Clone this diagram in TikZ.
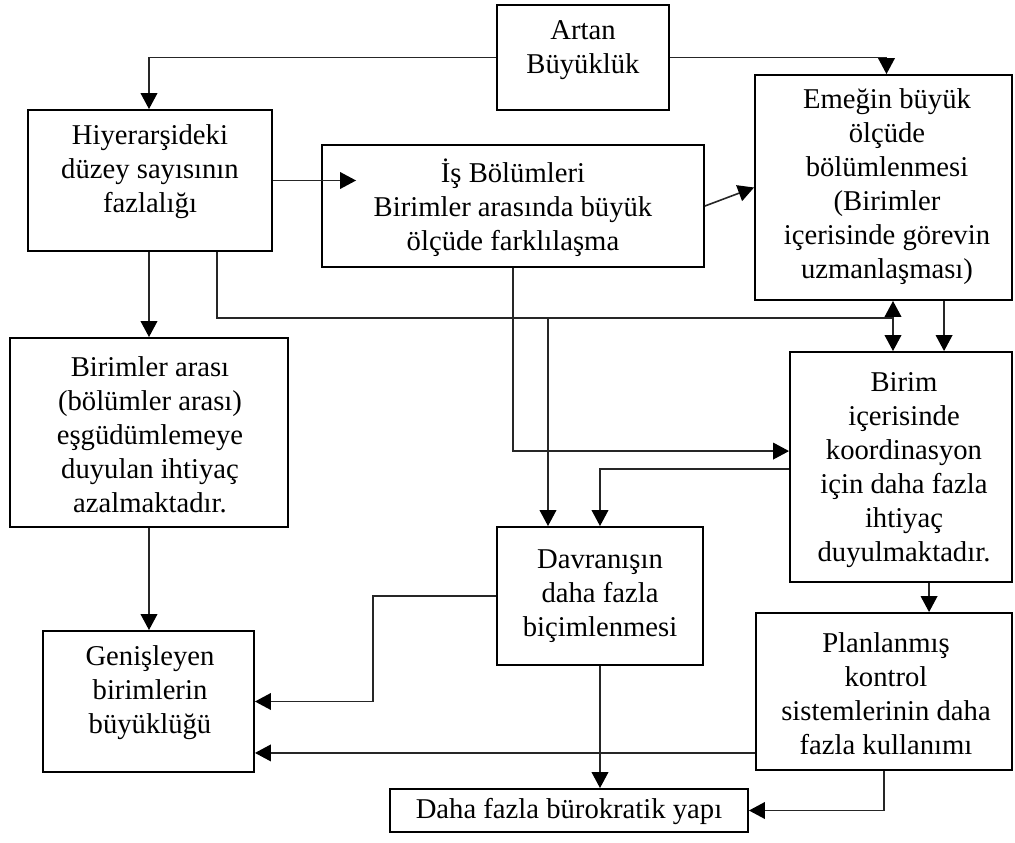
\documentclass[tikz,border=0pt]{standalone}
\usepackage{fontspec}
\setmainfont{Liberation Serif}
\usetikzlibrary{arrows.meta,calc,fit}
\begin{document}
\begin{tikzpicture}[x=0.75pt,y=-0.75pt,
  box/.style={draw, line width=1.4pt, inner sep=0pt},
  txt/.style={align=center, inner sep=0pt, font=\fontsize{21.5}{25.5}\selectfont},
  link/.style={draw=black!85, line width=1.2pt},
  arr/.style={link, -{Triangle[length=12pt,width=12.5pt,color=black]}}]
\useasboundingbox (0,0) rectangle (1015,843);

% boxes
\node[box, fit={(497,5) (669,110)}]    (A) {};
\node[box, fit={(28,110) (272,251)}]   (H) {};
\node[box, fit={(322,145) (704,267)}]  (I) {};
\node[box, fit={(755,75) (1012,300)}]  (E) {};
\node[box, fit={(10,338) (288,527)}]   (B) {};
\node[box, fit={(790,352) (1012,582)}] (C) {};
\node[box, fit={(497,527) (703,665)}]  (D) {};
\node[box, fit={(43,631) (254,772)}]   (G) {};
\node[box, fit={(756,613) (1012,770)}] (P) {};
\node[box, fit={(390,789) (748,832)}]  (F) {};

% texts
\node[txt] (A-t) at (583,50)  {Artan\\Büyüklük};
\node[txt] (H-t) at (150,172) {Hiyerarşideki\\düzey sayısının\\fazlalığı};
\node[txt] (I-t) at (513,208) {İş Bölümleri\\Birimler arasında büyük\\ölçüde farklılaşma};
\node[txt] (E-t) at (887,187) {Emeğin büyük\\ölçüde\\bölümlenmesi\\(Birimler\\içerisinde görevin\\uzmanlaşması)};
\node[txt] (B-t) at (150,435) {Birimler arası\\(bölümler arası)\\eşgüdümlemeye\\duyulan ihtiyaç\\azalmaktadır.};
\node[txt] (C-t) at (904,470) {Birim\\içerisinde\\koordinasyon\\için daha fazla\\ihtiyaç\\duyulmaktadır.};
\node[txt] (D-t) at (600,596) {Davranışın\\daha fazla\\biçimlenmesi};
\node[txt] (G-t) at (150,693) {Genişleyen\\birimlerin\\büyüklüğü};
\node[txt] (P-t) at (886,694) {Planlanmış\\kontrol\\sistemlerinin daha\\fazla kullanımı};
\node[txt] (F-t) at (569,811) {Daha fazla bürokratik yapı};

% junctions
\coordinate (hx) at ($(H.south west)+(190,0)$);
\coordinate (jr) at (893,318);
\coordinate (jm) at (548,318);
\coordinate (ix) at (513,0);
\coordinate (lx) at (149,0);
\coordinate (itip) at ($(I.west |- H.east)+(35,0)$);
\coordinate (pw) at ($(P.south west)+(0,-18)$);

% connectors
\draw[arr] (A.west) -| (lx |- H.north);
\draw[arr] (A.east) -| ([xshift=2.25pt]E.north);
\draw[arr] (H.east) -- (itip);
\draw[arr] (I.east) -- (E.west);
\draw[arr] (lx |- H.south) -- (lx |- B.north);
\draw[link] (hx) |- (jr);
\draw[arr] (jr) -- (jr |- E.south);
\draw[arr] (jr) -- (jr |- C.north);
\draw[arr] (jm) -- (jm |- D.north);
\draw[arr] ($(E.south west)+(190,0)$) -- ($(C.north west)+(155,0)$);
\draw[arr] (ix |- I.south) |- ($(C.north west)+(0,100)$);
\draw[arr] ($(C.north west)+(0,118)$) -| (D.north);
\draw[arr] ($(C.south west)+(140,0)$) -- ($(P.north west)+(174,0)$);
\draw[arr] (lx |- B.south) -- (lx |- G.north);
\draw[arr] (D.west) -- ++(-123,0) |- (G.east);
\draw[arr] (pw) -- (pw -| G.east);
\draw[arr] (D.south) -- (D.south |- F.north);
\draw[arr] (P.south) |- (F.east);
\end{tikzpicture}
\end{document}
